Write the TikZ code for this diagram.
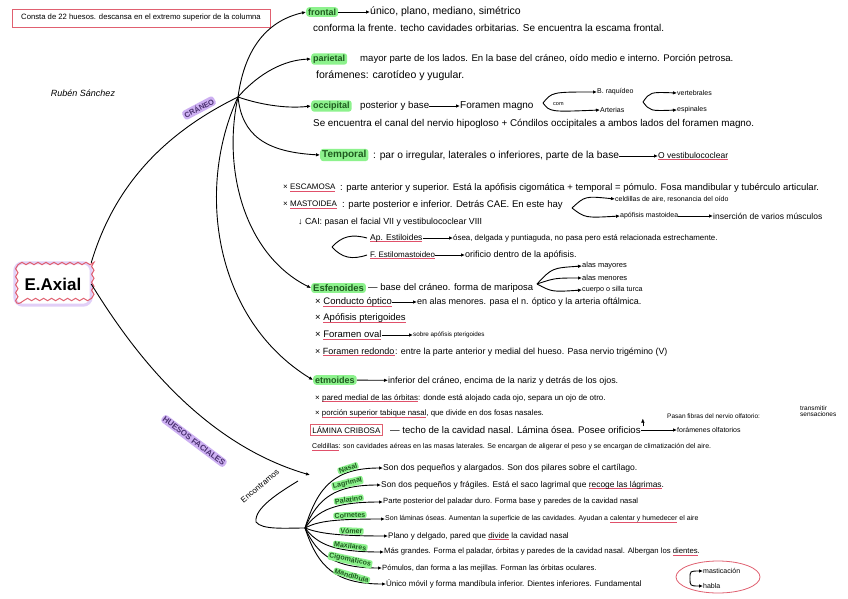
\documentclass[tikz,border=0pt]{standalone}
\usepackage{fontspec}
\setmainfont{Liberation Sans}
\usetikzlibrary{arrows.meta,decorations.pathmorphing,calc,shapes.geometric}
\definecolor{hl}{HTML}{8DF28D}
\definecolor{bonetxt}{HTML}{1E5A1E}
\definecolor{ulred}{HTML}{E0506A}
\definecolor{boxred}{HTML}{E06070}
\definecolor{lila}{HTML}{CDB0F2}
\definecolor{lilatxt}{HTML}{4A3070}
\newsavebox\rubox
\newcommand\ru[1]{\sbox\rubox{#1}\rlap{\color{ulred}\rule[-1.8pt]{\wd\rubox}{0.8pt}}\usebox\rubox}
\newcommand\fs[1]{\fontsize{#1}{#1}\selectfont}
\tikzset{
  txt/.style={anchor=west, inner sep=0pt, font=\fs{9}},
  bone/.style={anchor=west, fill=hl, rounded corners=3pt, inner xsep=2pt, inner ysep=1.5pt, text=bonetxt, font=\bfseries\fs{9}},
  flab/.style={fill=hl, rounded corners=2pt, inner xsep=1.2pt, inner ysep=0.8pt, text=bonetxt, font=\bfseries\fs{7.1}},
  hand/.style={line width=0.9pt, black},
  arr/.style={hand, -{Latex[length=4pt,width=3.5pt]}},
  lilalab/.style={fill=lila, rounded corners=3pt, inner sep=1.5pt, text=lilatxt, font=\bfseries\fs{7.5}},
}
\begin{document}
\begin{tikzpicture}[x=1pt,y=-1pt]
\fill[white] (0,0) rectangle (848,599);
\useasboundingbox (0,0) rectangle (848,599);

% header and signature
\node[draw=boxred, line width=.8pt, minimum width=258pt, minimum height=18pt, inner sep=0pt, font=\fs{7.7}] (intro) at (141,18) {Consta de 22 huesos. descansa en el extremo superior de la columna};
\node[font=\itshape\fs{9}] (firma) at (83,93) {Rubén Sánchez};

% E.Axial
\node[font=\bfseries\fs{17}, minimum width=76pt, minimum height=42pt, inner sep=0pt] (eax) at (53,284) {E.Axial};
\draw[lila, line width=3pt, opacity=.6, rounded corners=8pt] (eax.south west) rectangle (eax.north east);
\draw[boxred, line width=1pt, decorate, decoration={snake, amplitude=1.2pt, segment length=8pt}] ($(eax.south west)+(2,-2)$) rectangle ($(eax.north east)+(-2,2)$);

% craneo hub
\coordinate (hub) at (238,97);
\draw[hand] (eax.north east) .. controls (110,200) and (150,140) .. (hub);
\node[lilalab, rotate=28] (cran) at (199,108) {CRÁNEO};

% frontal
\node[bone] (fr) at (306,12) {frontal};
\node[txt,font=\fs{10.5}] (frd) at (370,12) {único, plano, mediano, simétrico};
\draw[arr] (fr) -- (frd);
\node[txt,font=\fs{10}] (fr2) at (313,28) {conforma la frente. techo cavidades orbitarias. Se encuentra la escama frontal.};
\draw[arr] (hub) .. controls (245,45) and (270,20) .. (fr.west);

% parietal
\node[bone] (pa) at (311,59) {parietal};
\node[txt,font=\fs{9.6}] (pad) at (360,59) {mayor parte de los lados. En la base del cráneo, oído medio e interno. Porción petrosa.};
\node[txt,font=\fs{10.5}] (pa2) at (316,76) {forámenes: carotídeo y yugular.};
\draw[arr] (hub) .. controls (260,72) and (285,60) .. (pa.west);

% occipital
\node[bone] (oc) at (311,106) {occipital};
\node[txt,font=\fs{9.7}] (ocd) at (360,106) {posterior y base};
\node[txt,font=\fs{10}] (fm) at (460,106) {Foramen magno};
\draw[arr] (ocd) -- (fm);
\draw[arr] (hub) .. controls (258,104) and (285,109) .. (oc.west);
\coordinate (cv) at (543,103);
\node[txt,font=\fs{5.5}] (com) at (553,104) {com};
\node[txt,font=\fs{7}] (braq) at (597,92) {B. raquídeo};
\node[txt,font=\fs{7}] (art) at (600,110) {Arterias};
\draw[arr] (cv) .. controls (552,92) .. (braq.west);
\draw[arr] (cv) .. controls (550,112) .. (art.west);
\coordinate (av) at (643,102);
\node[txt,font=\fs{7}] (vert) at (677,93) {vertebrales};
\node[txt,font=\fs{7}] (esp) at (677,110) {espinales};
\draw[arr] (av) .. controls (650,92) .. (vert.west);
\draw[arr] (av) .. controls (650,111) .. (esp.west);
\node[txt,font=\fs{9.85}] (oc2) at (313,124) {Se encuentra el canal del nervio hipogloso + Cóndilos occipitales a ambos lados del foramen magno.};

% temporal
\node[bone,font=\bfseries\fs{10}] (te) at (320,155) {Temporal};
\node[txt,font=\fs{10.2}] (ted) at (373,156) {: par o irregular, laterales o inferiores, parte de la base};
\node[txt,font=\fs{8.5}] (ove) at (658,156) {\ru{O vestibulococlear}};
\draw[arr] (ted) -- (ove);
\draw[arr] (hub) .. controls (242,135) and (265,152) .. (te.west);

\node[txt,font=\fs{8}] (esc) at (283,188) {× \ru{ESCAMOSA}};
\node[txt,font=\fs{9.5}] (escd) at (340,188) {: parte anterior y superior. Está la apófisis cigomática + temporal = pómulo. Fosa mandibular y tubérculo articular.};
\node[txt,font=\fs{8}] (mas) at (283,205) {× \ru{MASTOIDEA}};
\node[txt,font=\fs{9.6}] (masd) at (342,205) {: parte posterior e inferior. Detrás CAE. En este hay};
\coordinate (mv) at (572,208);
\node[txt,font=\fs{7}] (celd) at (615,199) {celdillas de aire, resonancia del oído};
\node[txt,font=\fs{7}] (apm) at (620,216) {apófisis mastoidea};
\node[txt,font=\fs{8.5}] (ins) at (713,216) {inserción de varios músculos};
\draw[arr] (mv) .. controls (585,196) .. (celd.west);
\draw[arr] (mv) .. controls (585,218) .. (apm.west);
\draw[arr] (apm) -- (ins);
\node[txt,font=\fs{8.8}] (cai) at (298,222) {↓ CAI: pasan el facial VII y vestibulococlear VIII};

\coordinate (sv) at (332,247);
\node[txt,font=\fs{8.5}] (ape) at (370,238) {\ru{Ap. Estiloides}};
\node[txt,font=\fs{7.9}] (aped) at (453,238) {ósea, delgada y puntiaguda, no pasa pero está relacionada estrechamente.};
\draw[arr] (ape) -- (aped);
\node[txt,font=\fs{8}] (fes) at (370,255) {\ru{F. Estilomastoideo}};
\node[txt,font=\fs{9}] (fesd) at (465,255) {orificio dentro de la apófisis.};
\draw[arr] (fes) -- (fesd);
\draw[hand] (sv) .. controls (342,236) and (352,234) .. ($(ape.west)+(-3,0)$);
\draw[hand] (sv) .. controls (342,258) and (352,260) .. ($(fes.west)+(-3,0)$);

% esfenoides
\node[bone,font=\bfseries\fs{9.5}] (esf) at (311,288) {Esfenoides};
\node[txt,font=\fs{9.5}] (esfd) at (368,288) {— base del cráneo. forma de mariposa};
\draw[arr] (hub) .. controls (222,170) and (245,255) .. (esf.west);
\coordinate (ev) at (537,284);
\node[txt,font=\fs{7.5}] (amay) at (582,266) {alas mayores};
\node[txt,font=\fs{7.5}] (amen) at (582,278) {alas menores};
\node[txt,font=\fs{7.2}] (cst) at (582,290) {cuerpo o silla turca};
\draw[arr] (ev) .. controls (552,268) .. (amay.west);
\draw[arr] (ev) .. controls (555,278) .. (amen.west);
\draw[arr] (ev) .. controls (552,292) .. (cst.west);

\node[txt,font=\fs{9.5}] (cop) at (315,302) {× \ru{Conducto óptico}};
\node[txt,font=\fs{9}] (copd) at (417,302) {en alas menores. pasa el n. óptico y la arteria oftálmica.};
\draw[arr] (cop) -- (copd);
\node[txt,font=\fs{9.5}] (apt) at (315,318) {× \ru{Apófisis pterigoides}};
\node[txt,font=\fs{9.5}] (fov) at (315,335) {× \ru{Foramen oval}};
\node[txt,font=\fs{6.3}] (fovd) at (413,335) {sobre apófisis pterigoides};
\draw[arr] (fov) -- (fovd);
\node[txt,font=\fs{9}] (fre) at (315,352) {× \ru{Foramen redondo}};
\node[txt,font=\fs{8.85}] (fred) at (395,352) {: entre la parte anterior y medial del hueso. Pasa nervio trigémino (V)};

% etmoides
\node[bone,font=\bfseries\fs{9}] (etm) at (313,380) {etmoides};
\node[txt,font=\fs{8.9}] (etmd) at (388,381) {inferior del cráneo, encima de la nariz y detrás de los ojos.};
\draw[arr] (etm) -- (etmd);
\draw[arr] (hub) .. controls (195,190) and (215,320) .. (etm.west);
\node[txt,font=\fs{8}] (pmo) at (315,398) {× \ru{pared medial de las órbitas}: donde está alojado cada ojo, separa un ojo de otro.};
\node[txt,font=\fs{7.8}] (pst) at (315,414) {× \ru{porción superior tabique nasal}, que divide en dos fosas nasales.};
\node[draw=boxred, line width=0.8pt, inner sep=2pt, anchor=west, font=\fs{8}] (lcr) at (310,430) {LÁMINA CRIBOSA};
\node[txt,font=\fs{9.6}] (lcrd) at (390,430) {— techo de la cavidad nasal. Lámina ósea. Posee orificios};
\node[txt,font=\fs{7}] (fol) at (677,430) {forámenes olfatorios};
\draw[arr] (lcrd) -- (fol);
\node[txt,font=\fs{6.5}] (pas) at (667,416) {Pasan fibras del nervio olfatorio:};
\node[txt,font=\fs{6.5},align=left] (tra) at (800,411) {transmitir\\sensaciones};
\draw[arr,line width=.5pt] ($(lcrd.north east)+(2,0)$) -- ($(lcrd.north east |- pas.south)+(2,0)$);
\node[txt,font=\fs{7}] (celdi) at (312,447) {\ru{Celdillas}: son cavidades aéreas en las masas laterales. Se encargan de aligerar el peso y se encargan de climatización del aire.};

% huesos faciales
\coordinate (ecu) at (310,475);
\draw[arr] (eax.east) .. controls (120,330) and (190,440) .. (ecu);
\node[lilalab, rotate=-37, font=\bfseries\fs{8}] (hf) at (194,441) {HUESOS FACIALES};
\coordinate (fh) at (305,528);
\coordinate (ecs) at (298,481);
\draw[hand] (ecs) .. controls (280,492) and (254,508) .. (256,522) .. controls (262,530) and (285,528) .. (fh);
\node[font=\fs{8}, rotate=40] (enc) at (260,486) {Encontramos};

\node[txt,font=\fs{8.6}] (d1) at (383,468) {Son dos pequeños y alargados. Son dos pilares sobre el cartílago.};
\node[txt,font=\fs{8.4}] (d2) at (381,485) {Son dos pequeños y frágiles. Está el saco lagrimal que \ru{recoge las lágrimas}.};
\node[txt,font=\fs{7.6}] (d3) at (383,502) {Parte posterior del paladar duro. Forma base y paredes de la cavidad nasal};
\node[txt,font=\fs{7}] (d4) at (385,519) {Son láminas óseas. Aumentan la superficie de las cavidades. Ayudan a \ru{calentar y humedecer} el aire};
\node[txt,font=\fs{8}] (d5) at (388,536) {Plano y delgado, pared que \ru{divide} la cavidad nasal};
\node[txt,font=\fs{7.7}] (d6) at (384,552) {Más grandes. Forma el paladar, órbitas y paredes de la cavidad nasal. Albergan los \ru{dientes}.};
\node[txt,font=\fs{7.6}] (d7) at (382,568) {Pómulos, dan forma a las mejillas. Forman las órbitas oculares.};
\node[txt,font=\fs{8}] (d8) at (386,584) {Único móvil y forma mandíbula inferior. Dientes inferiores. Fundamental};

\draw[arr] (fh) .. controls (318,486) and (335,468) .. (d1.west) node[pos=.72,sloped,above=0.5pt,flab] (l1) {Nasal};
\draw[arr] (fh) .. controls (318,498) and (335,485) .. (d2.west) node[pos=.72,sloped,above=0.5pt,flab] (l2) {Lagrimal};
\draw[arr] (fh) .. controls (318,510) and (335,502) .. (d3.west) node[pos=.72,sloped,above=0.5pt,flab] (l3) {Palatino};
\draw[arr] (fh) .. controls (318,521) and (335,519) .. (d4.west) node[pos=.72,sloped,above=0.5pt,flab] (l4) {Cornetes};
\draw[arr] (fh) .. controls (318,533) and (335,536) .. (d5.west) node[pos=.72,sloped,above=0.5pt,flab] (l5) {Vómer};
\draw[arr] (fh) .. controls (318,545) and (335,552) .. (d6.west) node[pos=.72,sloped,above=0.5pt,flab] (l6) {Maxilares};
\draw[arr] (fh) .. controls (318,556) and (335,568) .. (d7.west) node[pos=.72,sloped,above=0.5pt,flab] (l7) {Cigomáticos};
\draw[arr] (fh) .. controls (318,567) and (335,584) .. (d8.west) node[pos=.72,sloped,above=0.5pt,flab] (l8) {Mandíbula};

\node[ellipse, draw=boxred, line width=.8pt, minimum width=84pt, minimum height=32pt] (ell) at (718,577) {};
\coordinate (mvx) at (690,578);
\node[txt,font=\fs{7}] (mast) at (703,571) {masticación};
\node[txt,font=\fs{7}] (habla) at (703,586) {habla};
\draw[arr] (mvx) .. controls (690,571) .. (mast.west);
\draw[arr] (mvx) .. controls (690,586) .. (habla.west);
\end{tikzpicture}
\end{document}
